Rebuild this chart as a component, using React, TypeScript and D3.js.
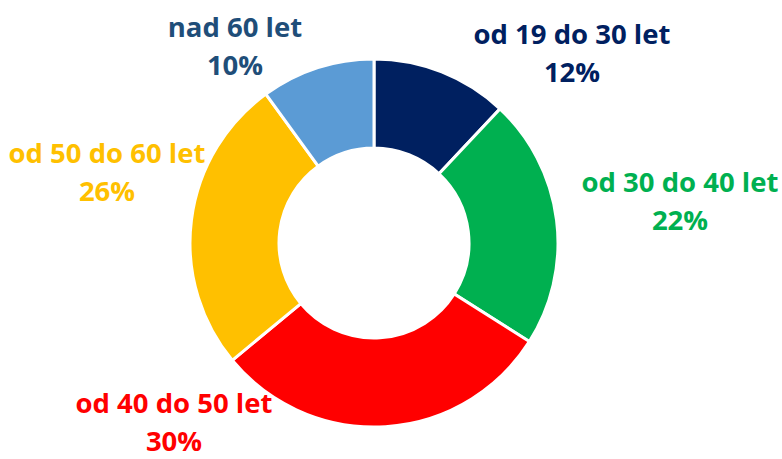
import React from 'react';
import * as d3 from 'd3';

// age groups and their shares (%)
const groups = ['od 19 do 30 let', 'od 30 do 40 let', 'od 40 do 50 let', 'od 50 do 60 let', 'nad 60 let'];
const shares = [12, 22, 30, 26, 10];
const sliceColours = ['#002060', '#00B050', '#FF0000', '#FFC000', '#5B9BD5'];
const labelColours = ['#002060', '#00B050', '#FF0000', '#FFC000', '#1F4E79'];

// label layout (center x, first baseline y)
const labelPos: [number, number][] = [
  [572, 44],
  [680, 192],
  [174, 413],
  [107, 163],
  [235, 37],
];

const width = 782,
  height = 459;

const App = () => {
  const cx = 374,
    cy = 243,
    outerR = 184,
    innerR = 95;

  const pie = d3
    .pie<number>()
    .sort(null)
    .value((d) => d);
  const arc = d3.arc<d3.PieArcDatum<number>>().innerRadius(innerR).outerRadius(outerR);
  const slices = pie(shares);

  return (
    <svg
      width={width}
      height={height}
      style={{ position: 'absolute', left: 0, top: 0, background: '#fff' }}
      fontFamily="'Open Sans', sans-serif"
    >
      <g transform={'translate(' + cx + ',' + cy + ')'}>
        {slices.map((s, i) => (
          <path key={i} d={arc(s) || ''} fill={sliceColours[i]} stroke="#fff" strokeWidth={3} />
        ))}
      </g>
      {groups.map((g, i) => (
        <text
          key={g}
          x={labelPos[i][0]}
          y={labelPos[i][1]}
          textAnchor="middle"
          fontSize={27.5}
          fontWeight="bold"
          fill={labelColours[i]}
        >
          <tspan x={labelPos[i][0]}>{g}</tspan>
          <tspan x={labelPos[i][0]} dy={38}>
            {shares[i] + '%'}
          </tspan>
        </text>
      ))}
    </svg>
  );
};

export default App;
